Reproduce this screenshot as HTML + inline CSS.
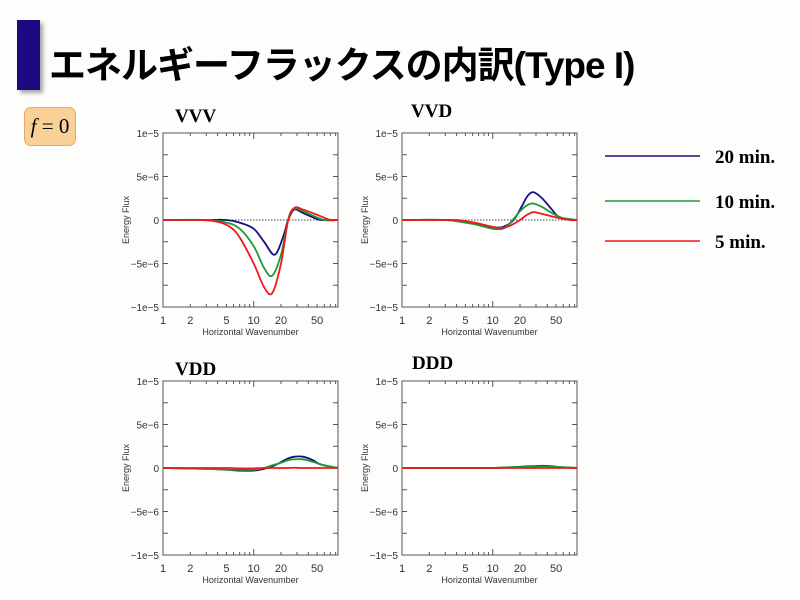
<!DOCTYPE html>
<html><head><meta charset="utf-8"><style>
body{margin:0;width:800px;height:600px;background:#fdfdfb;overflow:hidden;font-family:"Liberation Sans","Noto Sans CJK JP",sans-serif;}
.abs{position:absolute}
</style></head><body>
<div class="abs" style="left:17px;top:20px;width:23px;height:70px;background:#1c0a82;box-shadow:3px 3px 4px rgba(0,0,0,0.35)"></div>
<div class="abs" style="left:49px;top:35px;font-size:37px;font-weight:bold;color:#000;letter-spacing:-1px;font-family:'Liberation Sans','Noto Sans CJK JP',sans-serif;">エネルギーフラックスの内訳(Type I)</div>
<div class="abs" style="left:24px;top:107px;width:50px;height:37px;background:#f9d097;border:1px solid #e9a866;border-radius:7px;font-family:'Liberation Serif',serif;font-size:21px;line-height:37px;text-align:center"><i>f</i> = 0</div>
<svg class="abs" style="left:0;top:0" width="800" height="600" id="svg"></svg>
<script>
const NS="http://www.w3.org/2000/svg";
const svg=document.getElementById('svg');
const kBlue=[1,3,5,7,10,13,17,21,24,28,35,45,55,85];
const kGreen=[1,3,5,7,10,13,16,20,24,28,35,45,60,85];
const kRed=[1,2.5,4,5.5,7,10,13,16,20,24,28,35,50,70,85];
const vvvBlue=[0,0,0,-0.3,-1,-2.5,-4,-2,0,1.2,0.8,0.3,0,0];
const vvvGreen=[0,0,-0.3,-1,-3,-5.5,-6.4,-4,0,1.3,1,0.5,0,0];
const vvvRed=[0,0,-0.2,-0.8,-2,-5,-7.7,-8.4,-5,0,1.4,1.2,0.6,0,0];
const vvdBlue=[0,0,-0.3,-0.5,-0.8,-0.8,0,1.6,2.7,3.2,2.5,1.2,0.3,0];
const vvdGreen=[0,0,-0.3,-0.6,-1,-1,-0.2,1,1.7,1.9,1.5,0.8,0.2,0];
const vvdRed=[0,0,0,-0.2,-0.4,-0.8,-0.9,-0.6,0,0.6,0.9,0.7,0.3,0,0];
const vddBlue=[0,-0.1,-0.2,-0.3,-0.3,-0.1,0.3,0.8,1.1,1.3,1.3,0.9,0.4,0];
const vddGreen=[0,-0.1,-0.2,-0.2,-0.2,0,0.3,0.6,0.9,1.0,1.0,0.7,0.3,0];
const vddRed=[0,0,0,0,-0.05,-0.05,0,0,0,0,0.03,0,0,0,0];
const dddBlue=[0,0,0,0,0,0.05,0.1,0.15,0.2,0.2,0.25,0.2,0.1,0];
const dddGreen=[0,0,0,0,0,0.05,0.1,0.1,0.15,0.15,0.2,0.15,0.1,0];
const dddRed=[0,0,0,0,0,0,0,0,0,0,0,0,0,0,0];
const xTicks=[1,2,5,10,20,50];
const yTicks=[10,5,0,-5,-10];
const yTickLabels=['1e\u22125','5e\u22126','0','\u22125e\u22126','\u22121e\u22125'];
const colors={blue:'#16107e',green:'#1f9a34',red:'#f01818'};
const charts=[
 {name:'vvv',title:'VVV',x:163,y:133,tx:175,ty:122,s:[vvvBlue,vvvGreen,vvvRed]},
 {name:'vvd',title:'VVD',x:402,y:133,tx:411,ty:117,s:[vvdBlue,vvdGreen,vvdRed]},
 {name:'vdd',title:'VDD',x:163,y:381,tx:175,ty:375,s:[vddBlue,vddGreen,vddRed]},
 {name:'ddd',title:'DDD',x:402,y:381,tx:412,ty:369,s:[dddBlue,dddGreen,dddRed]}];
const W=175,H=174,XMAX=85;
function mk(t,a,p){const e=document.createElementNS(NS,t);for(const k in a)e.setAttribute(k,a[k]);(p||svg).appendChild(e);return e;}
function smooth(pts){let d='M'+pts[0][0]+','+pts[0][1];for(let i=0;i<pts.length-1;i++){const p0=pts[i-1]||pts[i],p1=pts[i],p2=pts[i+1],p3=pts[i+2]||p2;
d+=' C'+(p1[0]+(p2[0]-p0[0])/6)+','+(p1[1]+(p2[1]-p0[1])/6)+' '+(p2[0]-(p3[0]-p1[0])/6)+','+(p2[1]-(p3[1]-p1[1])/6)+' '+p2[0]+','+p2[1];}return d;}
charts.forEach(c=>{
 const g=mk('g',{});
 
 
 const sx=k=>c.x+Math.log10(k)/Math.log10(XMAX)*W;
 const sy=v=>c.y+H/2-v/10*(H/2);
 const t=mk('text',{x:c.tx,y:c.ty,'font-family':'Liberation Serif,serif','font-size':19,'font-weight':'bold'},g);t.textContent=c.title;
 
 
 mk('rect',{x:c.x,y:c.y,width:W,height:H,fill:'#fff',stroke:'#555','stroke-width':1},g);
 for(let d=1;d<=10;d*=10)for(let m=1;m<10;m++){const k=d*m;if(k>XMAX||k==1)continue;const X=sx(k);const L=m==1?6:3;
  mk('line',{x1:X,x2:X,y1:c.y+H,y2:c.y+H-L,stroke:'#555'},g);mk('line',{x1:X,x2:X,y1:c.y,y2:c.y+L,stroke:'#555'},g);}
 for(let v=-7.5;v<=7.5;v+=2.5){const Y=sy(v);mk('line',{x1:c.x,x2:c.x+5,y1:Y,y2:Y,stroke:'#555'},g);mk('line',{x1:c.x+W,x2:c.x+W-5,y1:Y,y2:Y,stroke:'#555'},g);}
 xTicks.forEach(k=>{const e=mk('text',{x:sx(k),y:c.y+H+17,'text-anchor':'middle','font-size':11,fill:'#333'},g);e.textContent=k;
  });
 yTicks.forEach((v,i)=>{const e=mk('text',{x:c.x-4,y:sy(v)+4,'text-anchor':'end','font-size':10,fill:'#333'},g);e.textContent=yTickLabels[i];
  });
 const xl=mk('text',{x:c.x+W/2,y:c.y+H+28,'text-anchor':'middle','font-size':9,fill:'#333'},g);xl.textContent='Horizontal Wavenumber';
 
 const yl=mk('text',{x:0,y:0,'text-anchor':'middle','font-size':9,fill:'#333',transform:'translate('+(c.x-34)+','+(c.y+H/2)+') rotate(-90)'},g);yl.textContent='Energy Flux';
 
 mk('line',{x1:c.x,x2:c.x+W,y1:sy(0),y2:sy(0),stroke:'#444','stroke-dasharray':'1.5,1.5','stroke-width':1},g);
 const ks=[kBlue,kGreen,kRed],cn=['blue','green','red'];
 c.s.forEach((vals,i)=>{const pts=vals.map((v,j)=>[sx(ks[i][j]),sy(v)]);
  const p=mk('path',{d:smooth(pts),fill:'none',stroke:colors[cn[i]],'stroke-width':1.8},g);
  });
});
const legend=[['20 min.','blue',156],['10 min.','green',201],['5 min.','red',241]];
legend.forEach(l=>{const g=mk('g',{});
 
 
 mk('line',{x1:605,x2:700,y1:l[2],y2:l[2],stroke:colors[l[1]],'stroke-width':1.5},g);
 const t=mk('text',{x:715,y:l[2]+7,'font-family':'Liberation Serif,serif','font-size':19,'font-weight':'bold'},g);t.textContent=l[0];});
</script>
</body></html>
